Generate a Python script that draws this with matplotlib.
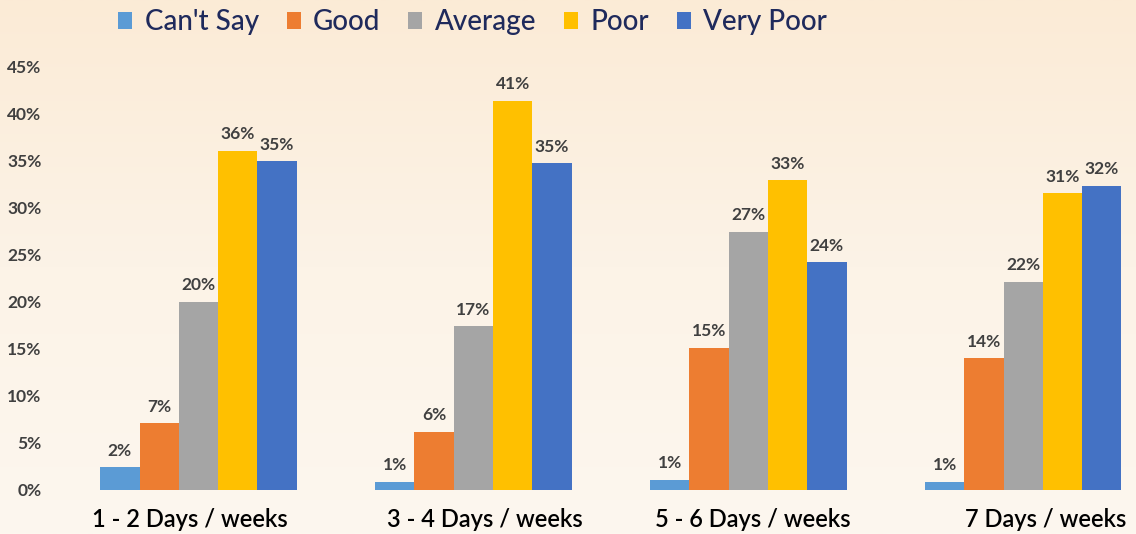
import numpy as np
import matplotlib
matplotlib.use('Agg')
import matplotlib.pyplot as plt
from matplotlib.ticker import PercentFormatter
from matplotlib.colors import LinearSegmentedColormap

categories = ['1 - 2 Days / weeks', '3 - 4 Days / weeks', '5 - 6 Days / weeks', '7 Days / weeks']
series = ["Can't Say", 'Good', 'Average', 'Poor', 'Very Poor']
cant_say = [0.024, 0.009, 0.011, 0.009]
good = [0.071, 0.062, 0.151, 0.140]
average = [0.200, 0.174, 0.274, 0.221]
poor = [0.360, 0.413, 0.329, 0.315]
very_poor = [0.349, 0.347, 0.242, 0.323]
labels = [['2%', '1%', '1%', '1%'],
          ['7%', '6%', '15%', '14%'],
          ['20%', '17%', '27%', '22%'],
          ['36%', '41%', '33%', '31%'],
          ['35%', '35%', '24%', '32%']]

colors = ['#5B9BD5', '#ED7D31', '#A5A5A5', '#FFC000', '#4472C4']
values = [cant_say, good, average, poor, very_poor]

plt.rcParams['font.family'] = ['Lato', 'DejaVu Sans']

fig = plt.figure(figsize=(11.36, 5.34), dpi=100)

# warm background gradient
bg = fig.add_axes([0, 0, 1, 1])
grad = np.linspace(0, 1, 256).reshape(-1, 1)
cmap = LinearSegmentedColormap.from_list('bg', ['#FBEBD6', '#FCF3E7', '#FDF7EF'])
bg.imshow(grad, aspect='auto', cmap=cmap, extent=[0, 1, 0, 1])
bg.axis('off')

ax = fig.add_axes([0.0537, 0.0824, 0.9463, 0.7940])
ax.patch.set_alpha(0)

x = np.arange(len(categories))
w = 1 / 7
for i, (vals, col) in enumerate(zip(values, colors)):
    pos = x + (i - 2) * w
    ax.bar(pos, vals, width=w, color=col, label=series[i])
    for p, v, t in zip(pos, vals, labels[i]):
        ax.text(p, v + 0.009, t, ha='center', va='bottom', fontsize=12.5,
                fontweight='bold', color='#404040', clip_on=False)

ax.set_xlim(-0.5, 3.41)
ax.set_ylim(0, 0.45)
ax.set_yticks(np.arange(0, 0.451, 0.05))
ax.yaxis.set_major_formatter(PercentFormatter(1.0, decimals=0))
for s in ax.spines.values():
    s.set_visible(False)
ax.tick_params(axis='y', length=0, pad=14, labelsize=12.5, labelcolor='#404040')
for t in ax.get_yticklabels():
    t.set_fontweight('bold')

ax.set_xticks(x + np.array([-0.03, 0.04, 0.015, 0.08]))
ax.set_xticklabels(categories, fontsize=17, color='black', fontweight='semibold')
ax.tick_params(axis='x', length=0, pad=13)

leg = ax.legend(loc='upper left', bbox_to_anchor=(0.043, 1.16), ncol=5, frameon=False,
                fontsize=20, handlelength=0.5, handleheight=0.55, handletextpad=0.45,
                columnspacing=1.0, borderaxespad=0)
for t in leg.get_texts():
    t.set_color('#1F2A5C')
    t.set_fontweight('medium')

plt.savefig('out.png', dpi=100)
